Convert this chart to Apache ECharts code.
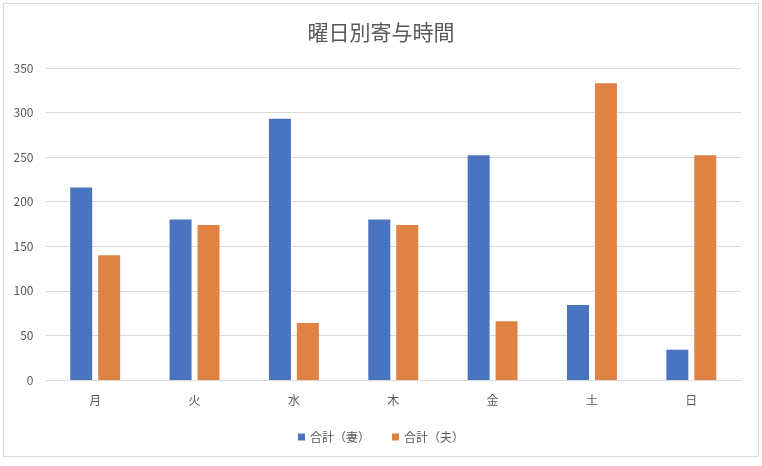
<!DOCTYPE html>
<html><head><meta charset="utf-8">
<script src="https://cdn.jsdelivr.net/npm/echarts@6/dist/echarts.min.js"></script>
<style>
html,body{margin:0;padding:0;background:#fff;}
#c{width:762px;height:466px;position:relative;}
#frame{position:absolute;left:3px;top:3px;width:754px;height:452px;border:1px solid #d9d9d9;pointer-events:none;}
</style></head>
<body>
<div id="c"></div><div id="frame"></div>
<script>
const categories = ['月','火','水','木','金','土','日'];
const wife = [216, 180, 293, 180, 252, 84, 34];
const husband = [140, 174, 64, 174, 66, 333, 252];
const seriesNames = ['合計（妻）','合計（夫）'];
const chart = echarts.init(document.getElementById('c'));
const font = '"Noto Sans CJK JP", "Noto Sans", sans-serif';
chart.setOption({
  animation:false,
  title:{text:'曜日別寄与時間',left:'center',top:17,textStyle:{color:'#595959',fontSize:21,fontWeight:'normal',fontFamily:font}},
  legend:{bottom:18,left:'center',itemWidth:7,itemHeight:7,itemGap:22,icon:'rect',textStyle:{color:'#595959',fontSize:12,fontFamily:font}},
  grid:{left:45.5,right:21,top:68,bottom:86},
  xAxis:{type:'category',data:categories,axisTick:{show:false},axisLine:{lineStyle:{color:'#d9d9d9'}},axisLabel:{color:'#595959',fontSize:12,margin:14,fontFamily:font}},
  yAxis:{type:'value',min:0,max:350,interval:50,axisLabel:{color:'#595959',fontSize:12,margin:12,fontFamily:font},splitLine:{lineStyle:{color:'#d9d9d9',width:1}}},
  series:[
    {name:seriesNames[0],type:'bar',data:wife,barWidth:22,barGap:'27%',itemStyle:{color:'#4A74C0'}},
    {name:seriesNames[1],type:'bar',data:husband,barWidth:22,barGap:'27%',itemStyle:{color:'#E08244'}}
  ]
});
</script>
</body></html>
